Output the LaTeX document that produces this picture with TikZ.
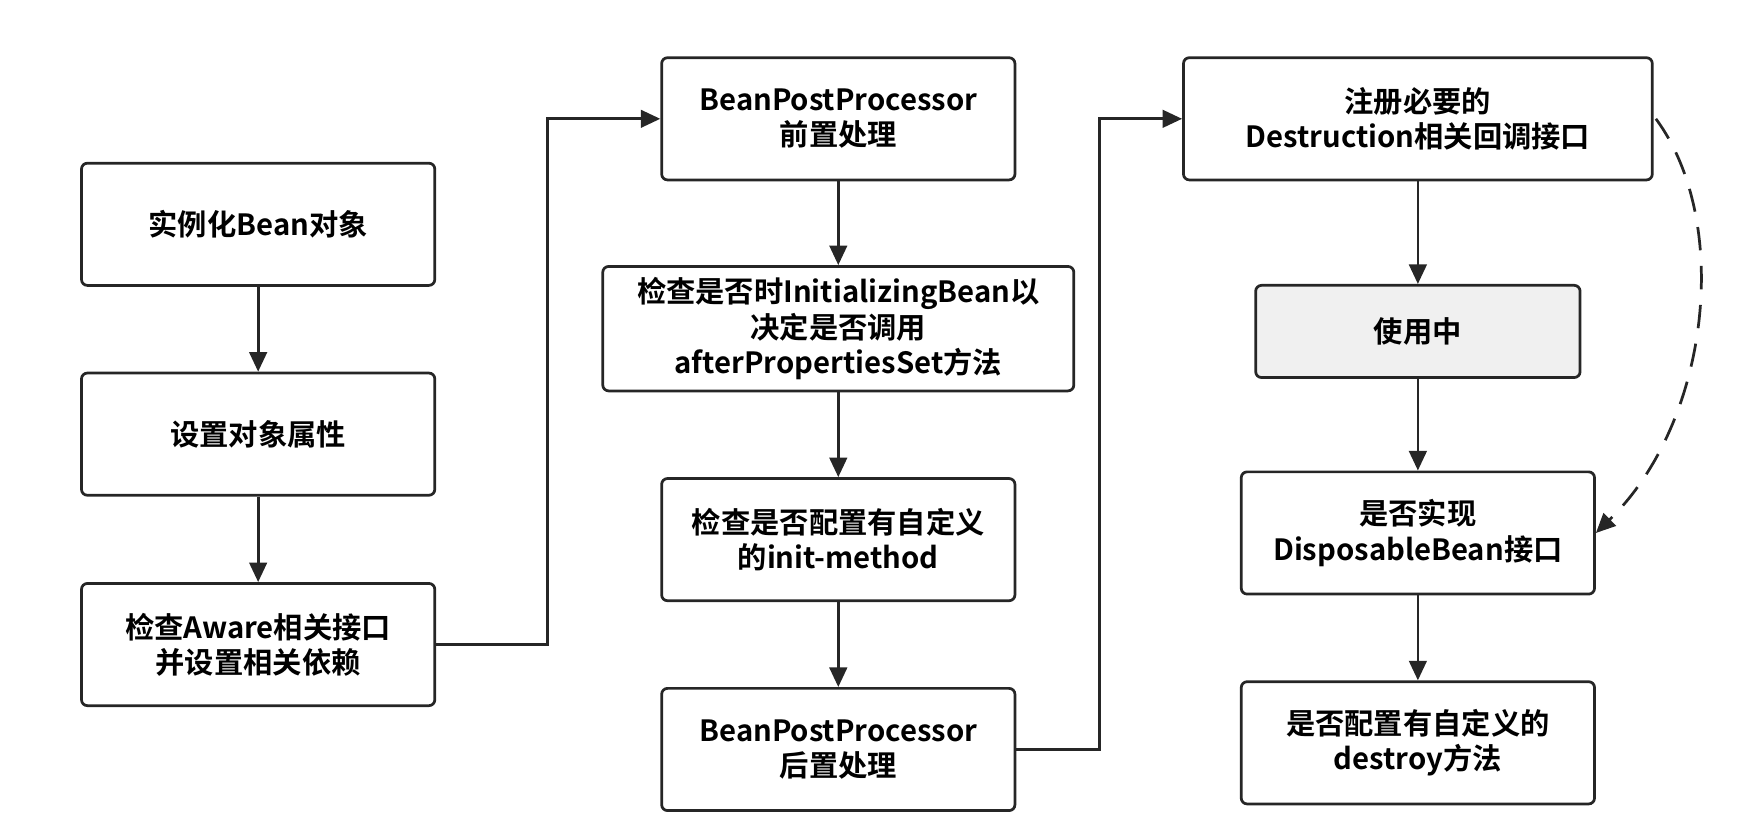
\documentclass[tikz,border=0pt]{standalone}
\usepackage{fontspec}
\setmainfont{Noto Sans CJK SC}[BoldFont={* Bold}]
\usetikzlibrary{arrows.meta}
\tikzset{
  stage/.style={draw=black!85,line width=0.7pt,rounded corners=1.5pt,align=center,
    font=\fontsize{7.5}{9}\selectfont\bfseries,inner sep=0pt,
    minimum width=3.18cm,minimum height=1.1cm},
  flow/.style={-{Triangle[length=5pt,width=4.5pt]},line width=0.7pt,draw=black!85}
}
\begin{document}
\begin{tikzpicture}[x=0.01cm,y=-0.01cm]
\useasboundingbox (0,0) rectangle (1568,747.5);
\node[stage] (inst) at (232.5,202) {实例化Bean对象};
\node[stage] (prop) at (232.5,391) {设置对象属性};
\node[stage] (aware) at (232.5,580.5) {检查Aware相关接口\\并设置相关依赖};
\node[stage] (pre) at (755,107) {BeanPostProcessor\\前置处理};
\node[stage,minimum width=4.24cm,minimum height=1.12cm] (initb) at (755,296) {检查是否时InitializingBean以\\决定是否调用\\afterPropertiesSet方法};
\node[stage] (initm) at (755,486) {检查是否配置有自定义\\的init-method};
\node[stage] (post) at (755,675) {BeanPostProcessor\\后置处理};
\node[stage,minimum width=4.22cm] (reg) at (1277,107) {注册必要的\\Destruction相关回调接口};
\node[stage,fill=black!6,minimum width=2.92cm,minimum height=0.83cm] (use) at (1277,298.5) {使用中};
\node[stage] (disp) at (1277,480) {是否实现\\DisposableBean接口};
\node[stage] (destr) at (1277,669) {是否配置有自定义的\\destroy方法};

\draw[flow] (inst) -- (prop);
\draw[flow] (prop) -- (aware);
\draw[flow] (aware.east) -- (493,580.5) |- (pre.west);
\draw[flow] (pre) -- (initb);
\draw[flow] (initb) -- (initm);
\draw[flow] (initm) -- (post);
\draw[flow] (post.east) -- (990,675) |- (reg.west);
\draw[flow] (reg) -- (use);
\draw[flow] (use) -- (disp);
\draw[flow] (disp) -- (destr);
\draw[flow,dashed,dash pattern=on 6pt off 4pt] (reg.east) ++(2,0) .. controls (1560,200) and (1540,380) .. (disp.east);
\end{tikzpicture}
\end{document}
